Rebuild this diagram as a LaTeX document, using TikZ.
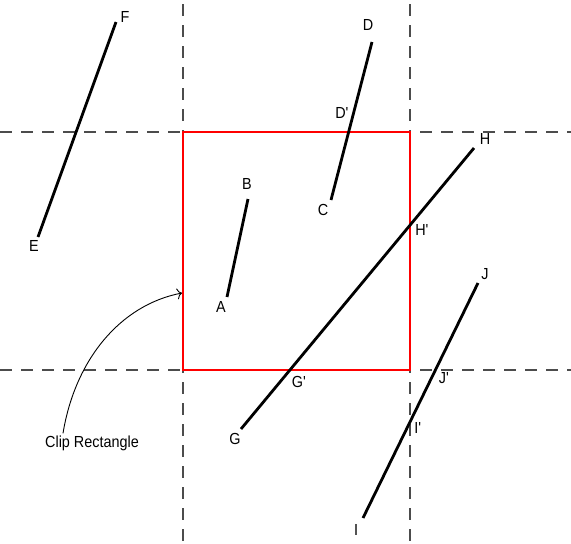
\documentclass[tikz,border=0pt]{standalone}
\usepackage{fontspec}
\setmainfont{Liberation Sans}[FakeStretch=0.9]
\usetikzlibrary{arrows.meta}
\newcommand{\clipprime}{\textquotesingle}
\tikzset{
	clipguide/.style={draw=black!70,line width=1.1pt,dash pattern=on 12pt off 9pt},
	cliprect/.style={draw=red,line width=2.4pt},
	clipseg/.style={draw=black,line width=2.8pt},
	cliplbl/.style={inner sep=0pt,font=\fontsize{16}{18}\selectfont},
	cliparrow/.style={draw=black,line width=0.9pt,-{To[length=5pt,width=11pt]}}
}
\begin{document}
\begin{tikzpicture}[x=1pt,y=-1pt]
	\useasboundingbox (0,0) rectangle (571,544);
	% guide lines through the clip edges
	\draw[clipguide] (0,132)--(571,132) (0,370)--(571,370);
	\draw[clipguide] (183,4)--(183,544) (410,4)--(410,544);
	\draw[cliprect] (183,132) rectangle (410,370);
	% segment end points
	\coordinate (F) at (116,22);
	\coordinate (E) at (38,237);
	\coordinate (D) at (372,42);
	\coordinate (C) at (331,200);
	\coordinate (B) at (248,199);
	\coordinate (A) at (227,297);
	\coordinate (H) at (474,148);
	\coordinate (G) at (241,429);
	\coordinate (J) at (478,283);
	\coordinate (I) at (363,518);
	\draw[clipseg] (F)--(E) (D)--(C) (B)--(A) (H)--(G) (J)--(I);
	% labels
	\node[cliplbl] (lF) at (125,17) {F};
	\node[cliplbl] (lE) at (34,246) {E};
	\node[cliplbl] (lD) at (368,25) {D};
	\node[cliplbl] (lDp) at (342,113) {D\clipprime};
	\node[cliplbl] (lC) at (323,210) {C};
	\node[cliplbl] (lB) at (247,184) {B};
	\node[cliplbl] (lA) at (221,307) {A};
	\node[cliplbl] (lH) at (485,139) {H};
	\node[cliplbl] (lHp) at (422,230) {H\clipprime};
	\node[cliplbl] (lGp) at (299,382) {G\clipprime};
	\node[cliplbl] (lG) at (235,439) {G};
	\node[cliplbl] (lJ) at (485,274) {J};
	\node[cliplbl] (lJp) at (444,378) {J\clipprime};
	\node[cliplbl] (lIp) at (418,428) {I\clipprime};
	\node[cliplbl] (lI) at (356,530) {I};
	\node[cliplbl] (clipname) at (92,443) {Clip Rectangle};
	\coordinate (cliptip) at (182,293);
	\draw[cliparrow] ([xshift=-29pt,yshift=2pt]clipname.north) .. controls (75,360) and (120,305) .. (cliptip);
\end{tikzpicture}
\end{document}
